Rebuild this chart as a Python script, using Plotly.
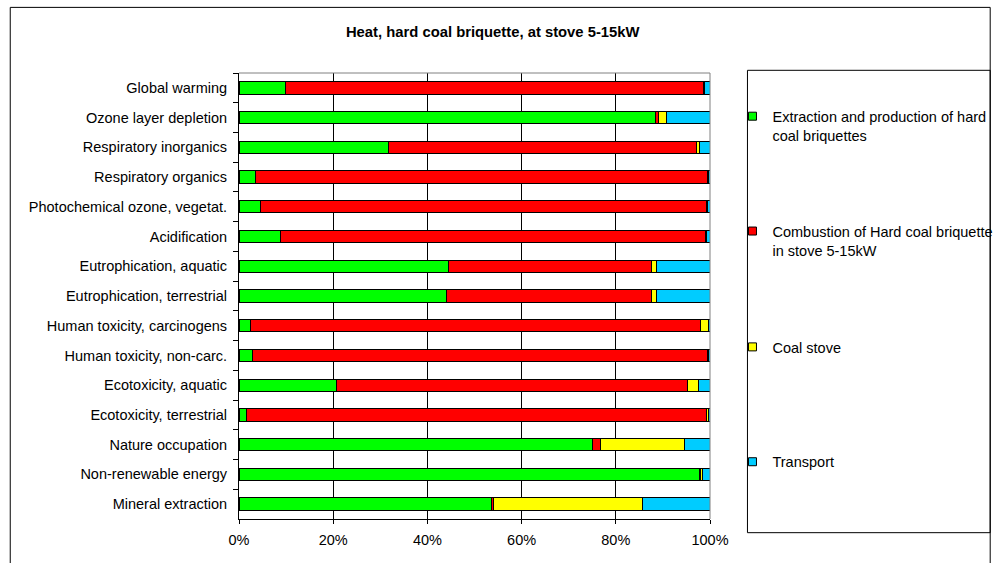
import plotly.graph_objects as go

categories = [
    "Global warming", "Ozone layer depletion", "Respiratory inorganics",
    "Respiratory organics", "Photochemical ozone, vegetat.", "Acidification",
    "Eutrophication, aquatic", "Eutrophication, terrestrial",
    "Human toxicity, carcinogens", "Human toxicity, non-carc.",
    "Ecotoxicity, aquatic", "Ecotoxicity, terrestrial", "Nature occupation",
    "Non-renewable energy", "Mineral extraction",
]

extraction = [9.8, 88.5, 31.8, 3.6, 4.5, 8.8, 44.5, 44.0, 2.5, 2.8, 20.7, 1.6, 75.0, 97.7, 53.6]
combustion = [88.8, 0.5, 65.3, 95.8, 94.7, 90.2, 43.1, 43.6, 95.4, 96.6, 74.5, 97.6, 1.8, 0.2, 0.4]
coal_stove = [0.3, 1.8, 0.6, 0.3, 0.2, 0.3, 1.1, 1.1, 1.8, 0.3, 2.3, 0.5, 17.8, 0.5, 31.6]
transport = [1.1, 9.2, 2.3, 0.3, 0.6, 0.7, 11.3, 11.3, 0.3, 0.3, 2.5, 0.3, 5.4, 1.6, 14.4]

series_names = [
    "Extraction and production of hard<br>coal briquettes",
    "Combustion of Hard coal briquette<br>in stove 5-15kW",
    "Coal stove",
    "Transport",
]
series_values = [extraction, combustion, coal_stove, transport]
series_colors = ["#00FF00", "#FF0000", "#FFFF00", "#00CCFF"]

tick_vals = [0, 20, 40, 60, 80, 100]
tick_text = ["0%", "20%", "40%", "60%", "80%", "100%"]

W, H = 997, 563
L, R, T, B = 239, 710.5, 72.7, 519.3


def px_x(p):
    return (p - L) / (R - L)


def px_y(p):
    return (B - p) / (B - T)


font = "Liberation Sans, Arial, sans-serif"
legend_ids = ["legend", "legend2", "legend3", "legend4"]
legend_rows = [117, 232, 348, 463]

fig = go.Figure()
for i, (name, vals, col) in enumerate(zip(series_names, series_values, series_colors)):
    fig.add_trace(go.Bar(
        y=categories, x=vals, orientation="h", name=name,
        marker=dict(color=col, line=dict(color="black", width=1)),
        showlegend=False,
    ))
    fig.add_trace(go.Scatter(
        x=[None], y=[None], mode="markers", name=name,
        legend=legend_ids[i],
        marker=dict(symbol="square", size=8, color=col, line=dict(color="black", width=1)),
    ))

legend_layouts = {}
for lid, row in zip(legend_ids, legend_rows):
    legend_layouts[lid] = dict(
        x=px_x(733), xanchor="left", y=px_y(row - 17), yanchor="top",
        valign="top", font=dict(family=font, size=14.5, color="black"),
        bgcolor="rgba(0,0,0,0)", borderwidth=0, itemwidth=30,
    )

fig.update_layout(
    width=W, height=H,
    margin=dict(l=L, r=W - R, t=T, b=H - B, pad=0, autoexpand=False),
    barmode="stack", bargap=0.585,
    paper_bgcolor="white", plot_bgcolor="white",
    font=dict(family=font, size=14.5, color="black"),
    title=dict(
        text="<b>Heat, hard coal briquette, at stove 5-15kW</b>",
        x=px_x(493), xref="paper", xanchor="center",
        y=1 - 32 / H, yanchor="middle",
        font=dict(family=font, size=14.8, color="black"),
    ),
    xaxis=dict(
        range=[0, 100], tickvals=tick_vals, ticktext=tick_text,
        showgrid=True, gridcolor="black", gridwidth=1,
        showline=True, linecolor="black", linewidth=1,
        ticks="outside", ticklen=4, tickcolor="black",
        zeroline=False, fixedrange=True, ticklabelstandoff=4,
        tickfont=dict(size=14.5),
    ),
    yaxis=dict(
        autorange="reversed", type="category",
        showline=True, linecolor="black", linewidth=1,
        ticks="outside", ticklen=5, tickcolor="black", tickson="boundaries",
        showgrid=False, ticklabelstandoff=8, fixedrange=True,
        tickfont=dict(size=14.5),
    ),
    shapes=[
        dict(type="rect", xref="paper", yref="paper",
             x0=px_x(10), x1=px_x(991), y0=px_y(620), y1=px_y(7),
             line=dict(color="black", width=1), layer="below"),
        dict(type="rect", xref="paper", yref="paper",
             x0=px_x(748), x1=px_x(991), y0=px_y(533), y1=px_y(70),
             line=dict(color="black", width=1), layer="below"),
        dict(type="line", xref="paper", yref="paper",
             x0=0, x1=1, y0=1, y1=1, line=dict(color="#808080", width=1)),
        dict(type="line", xref="paper", yref="paper",
             x0=1, x1=1, y0=0, y1=1, line=dict(color="#808080", width=1)),
    ],
    **legend_layouts,
)

# remove the default body margin so the figure sits at the page origin
fig.write_html(
    "out.html",
    config={"displayModeBar": False},
    post_script="document.body.style.margin='0';document.body.style.overflow='hidden';",
)
